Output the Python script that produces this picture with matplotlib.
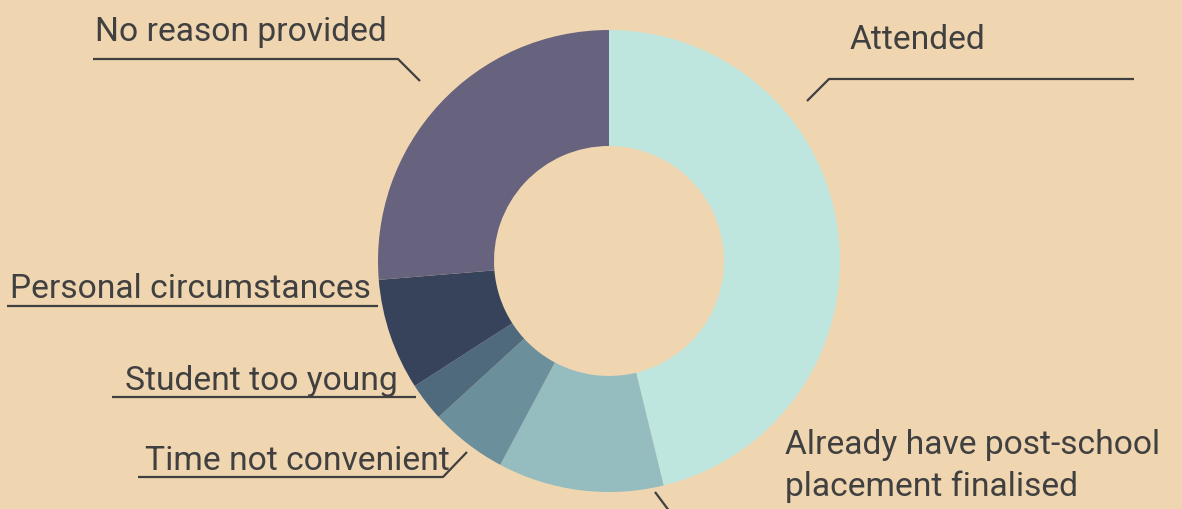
import matplotlib
matplotlib.use("Agg")
from matplotlib import pyplot as plt

# Share of responses (percent), clockwise from the top
labels = ["Attended", "Already have post-school\nplacement finalised", "Time not convenient",
          "Student too young", "Personal circumstances", "No reason provided"]
values = [46.2, 11.6, 5.4, 2.7, 7.8, 26.3]
colors = ["#BEE5DE", "#95BCBF", "#6B8F9B", "#4F6A7D", "#36435B", "#67627E"]

bg = "#EFD5B0"
ink = "#404040"
W, H = 1182, 509

plt.rcParams['font.family'] = ['Roboto', 'DejaVu Sans']

fig = plt.figure(figsize=(W / 100, H / 100), dpi=100, facecolor=bg)
ax = fig.add_axes([0, 0, 1, 1])
ax.set_facecolor(bg)
ax.set_xlim(0, W)
ax.set_ylim(0, H)
ax.set_aspect('equal')
ax.axis('off')

def py(y):
    # pixel row (from top) to axes y
    return H - y

ax.pie(values, colors=colors, startangle=90, counterclock=False,
       center=(609, py(261)), radius=231,
       wedgeprops=dict(width=116, linewidth=0))
ax.set_xlim(0, W)
ax.set_ylim(0, H)

# label text: (x, baseline)
fs = 24.2
txt = dict(fontsize=fs, color=ink, va='baseline')
ax.text(850, py(49), labels[0], **txt)
line1, line2 = labels[1].split("\n")
ax.text(785, py(454), line1, **txt)
ax.text(785, py(496), line2, **txt)
ax.text(145, py(470), labels[2], **txt)
ax.text(125, py(390), labels[3], **txt)
ax.text(10, py(298), labels[4], **txt)
ax.text(95, py(41), labels[5], **txt)

# underlines and leader lines
lines = [
    ([1134, 829, 807], [79, 79, 101]),
    ([138, 443, 467], [477, 477, 452]),
    ([112, 416], [397, 397]),
    ([7, 378], [306, 306]),
    ([93, 398, 420], [59, 59, 81]),
    ([655, 670], [492, 512]),
]
for xs, ys in lines:
    ax.plot(xs, [py(v) for v in ys], color=ink, lw=1.6, solid_capstyle='butt')

plt.savefig("out.png", dpi=100, facecolor=bg)
